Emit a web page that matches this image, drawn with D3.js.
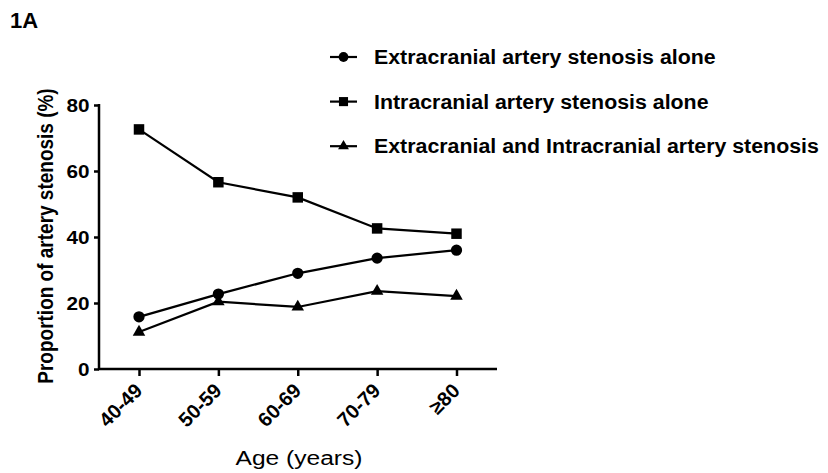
<!DOCTYPE html>
<html>
<head>
<meta charset="utf-8">
<script src="https://cdn.jsdelivr.net/npm/d3@7"></script>
<style>
  body { margin: 0; background: #fff; }
  svg { display: block; font-family: Arial, "Liberation Sans", sans-serif; }
</style>
</head>
<body>
<div id="chart"></div>
<script>
// data
var ageGroups = ["40-49", "50-59", "60-69", "70-79", "≥80"];
var extraAlone = [15.8, 22.7, 29.0, 33.6, 36.0];
var intraAlone = [72.6, 56.6, 52.0, 42.6, 41.0];
var bothStenosis = [11.2, 20.4, 18.8, 23.6, 22.1];
var yTicks = [0, 20, 40, 60, 80];
var seriesNames = [
    "Extracranial artery stenosis alone",
    "Intracranial artery stenosis alone",
    "Extracranial and Intracranial artery stenosis"
];

var series = [
    { name: seriesNames[0], values: extraAlone, symbol: d3.symbolCircle, size: 100 },
    { name: seriesNames[1], values: intraAlone, symbol: d3.symbolSquare, size: 110 },
    { name: seriesNames[2], values: bothStenosis, symbol: d3.symbolTriangle, size: 68 }
];

var w = 828, h = 473;
var stretch = 1.12; // the source picture is a bit wider than tall

var svg = d3.select("#chart")
    .append("svg")
    .attr("width", w)
    .attr("height", h);

//----------------------------
// Scales
//----------------------------
var x = d3.scalePoint()
    .domain(ageGroups)
    .range([139, 456.5]);

var y = d3.scaleLinear()
    .domain([0, 80])
    .range([369, 105]);

//----------------------------
// Axes
//----------------------------
var yAxis = svg.append("g")
    .attr("transform", "translate(99,0)")
    .call(d3.axisLeft(y).tickValues(yTicks).tickSize(5));

yAxis.select(".domain").attr("stroke-width", 2.5).attr("d", "M0,104V370");
yAxis.selectAll(".tick line").attr("stroke-width", 2.5);
yAxis.selectAll(".tick text")
    .attr("font-size", 18.5)
    .attr("font-weight", "bold")
    .attr("font-family", "Arial, 'Liberation Sans', sans-serif")
    .attr("fill", "#000")
    .attr("x", -9.5 / stretch)
    .attr("dy", "0.36em")
    .attr("transform", "scale(" + stretch + ",1)");

var xAxis = svg.append("g")
    .attr("transform", "translate(0,369)")
    .call(d3.axisBottom(x).tickSize(7));

xAxis.select(".domain").attr("stroke-width", 2.5).attr("d", "M98,0H497");
xAxis.selectAll(".tick line").attr("stroke-width", 2.5);
xAxis.selectAll(".tick text")
    .attr("font-size", 20)
    .attr("font-weight", "bold")
    .attr("font-family", "Arial, 'Liberation Sans', sans-serif")
    .attr("fill", "#000")
    .attr("text-anchor", "end")
    .attr("dy", null)
    .attr("y", 0)
    .attr("transform", "translate(4,23) rotate(-45)");

svg.append("text")
    .attr("transform", "translate(53,236) scale(" + stretch + ",1) rotate(-90)")
    .attr("text-anchor", "middle")
    .attr("font-size", 19)
    .attr("font-weight", "bold")
    .text("Proportion of artery stenosis (%)");

svg.append("text")
    .attr("transform", "translate(299,465) scale(1.17,1)")
    .attr("text-anchor", "middle")
    .attr("font-size", 21)
    .text("Age (years)");

svg.append("text")
    .attr("x", 10)
    .attr("y", 28)
    .attr("font-size", 22)
    .attr("font-weight", "bold")
    .text("1A");

//----------------------------
// Lines and markers
//----------------------------
var line = d3.line()
    .x(function (d, i) { return x(ageGroups[i]); })
    .y(function (d) { return y(d); });

series.forEach(function (s) {
    svg.append("path")
        .datum(s.values)
        .attr("fill", "none")
        .attr("stroke", "#000")
        .attr("stroke-width", 2.2)
        .attr("d", line);

    svg.selectAll(null)
        .data(s.values)
        .enter()
        .append("path")
        .attr("d", d3.symbol().type(s.symbol).size(s.size))
        .attr("transform", function (d, i) {
            return "translate(" + x(ageGroups[i]) + "," + y(d) + ")";
        })
        .attr("fill", "#000");
});

//----------------------------
// Legend
//----------------------------
var legend = svg.append("g")
    .selectAll("g")
    .data(series)
    .enter()
    .append("g")
    .attr("transform", function (d, i) { return "translate(330," + (57 + i * 44.6) + ")"; });

legend.append("line")
    .attr("x1", 0)
    .attr("x2", 27)
    .attr("stroke", "#000")
    .attr("stroke-width", 2.2);

legend.append("path")
    .attr("d", function (d) { return d3.symbol().type(d.symbol).size(d.size * 0.75)(); })
    .attr("transform", "translate(13.5,0)")
    .attr("fill", "#000");

legend.append("text")
    .attr("transform", "translate(44,7) scale(1.095,1)")
    .attr("font-size", 19.5)
    .attr("font-weight", "bold")
    .text(function (d) { return d.name; });
</script>
</body>
</html>
